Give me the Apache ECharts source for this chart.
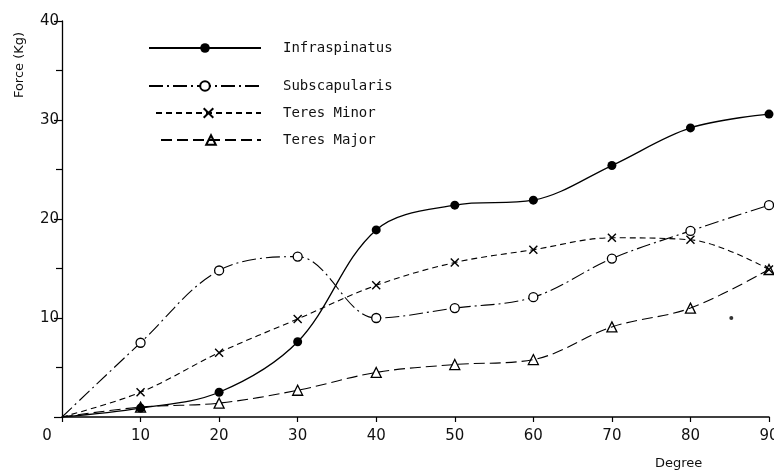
<!DOCTYPE html>
<html>
<head>
<meta charset="utf-8">
<script src="https://cdn.jsdelivr.net/npm/echarts@6/dist/echarts.min.js"></script>
<style>html,body{margin:0;padding:0;background:#fff;}#c{width:774px;height:472px;}</style>
</head>
<body>
<div id="c"></div>
<script>
var degrees = [0, 10, 20, 30, 40, 50, 60, 70, 80, 90];
var infraspinatus = [0, 0.9, 2.5, 7.6, 18.9, 21.4, 21.9, 25.4, 29.2, 30.6];
var subscapularis = [0, 7.5, 14.8, 16.2, 10.0, 11.0, 12.1, 16.0, 18.8, 21.4];
var teresMinor = [0, 2.5, 6.5, 9.9, 13.3, 15.6, 16.9, 18.1, 17.9, 14.9];
var teresMajor = [0, 1.0, 1.4, 2.7, 4.5, 5.3, 5.8, 9.1, 11.0, 14.9];
var strayDot = [[85.2, 10.0]];
var xTicks = [0, 10, 20, 30, 40, 50, 60, 70, 80, 90];
var yTicks = [10, 20, 30, 40];

var FONT = 'DejaVu Sans';
var MONO = 'DejaVu Sans Mono';

function build(vals) {
  return degrees.map(function (d, i) {
    var p = { value: [d, vals[i]] };
    if (i === 0) { p.symbol = 'none'; p.symbolSize = 0; }
    return p;
  });
}

var xPath = 'path://M0,0L10,10M10,0L0,10';

var series = [
  { name: 'Infraspinatus', data: build(infraspinatus), symbol: 'circle', symbolSize: 9, z: 6,
    itemStyle: { color: '#000', borderColor: '#000', borderWidth: 0 },
    lineStyle: { color: '#000', width: 1.3, type: 'solid' } },
  { name: 'Subscapularis', data: build(subscapularis), symbol: 'circle', symbolSize: 9, z: 4,
    itemStyle: { color: '#fff', borderColor: '#000', borderWidth: 1.3 },
    lineStyle: { color: '#000', width: 1.1, type: [14, 4, 2, 4] } },
  { name: 'Teres Minor', data: build(teresMinor), symbol: xPath, symbolSize: 8, z: 4,
    itemStyle: { color: 'none', borderColor: '#000', borderWidth: 1.4 },
    lineStyle: { color: '#000', width: 1.1, type: [6, 4] } },
  { name: 'Teres Major', data: build(teresMajor), symbol: 'triangle', symbolSize: 10, z: 3,
    itemStyle: { color: 'none', borderColor: '#000', borderWidth: 1.3 },
    lineStyle: { color: '#000', width: 1.1, type: [11, 5] } }
].map(function (s) {
  s.type = 'line'; s.smooth = 0.35; s.animation = false; s.showAllSymbol = true;
  return s;
});
series.push({ type: 'scatter', name: 'dot', data: strayDot, symbol: 'circle', symbolSize: 4,
  itemStyle: { color: '#000' }, animation: false });

var legendTops = [35, 73, 100, 127];
var legendLefts = [143, 143, 150, 155];
var legendW = [112, 112, 105, 100];
var legends = series.slice(0, 4).map(function (s, i) {
  return {
    data: [s.name], left: legendLefts[i], top: legendTops[i], orient: 'vertical',
    itemWidth: legendW[i], itemHeight: 12, selectedMode: false,
    textStyle: { fontFamily: MONO, fontSize: 14, color: '#111', lineHeight: 16, padding: [0, 0, 0, 17] }
  };
});

var chart = echarts.init(document.getElementById('c'), null, { renderer: 'canvas' });
chart.setOption({
  backgroundColor: '#fff',
  animation: false,
  legend: legends,
  title: { text: 'Degree', left: 650, top: 452,
    textStyle: { fontFamily: FONT, fontSize: 13, fontWeight: 'normal', color: '#111' } },
  grid: { left: 62, right: 5, top: 21, bottom: 55, containLabel: false, outerBoundsMode: 'none' },
  xAxis: {
    type: 'value', min: 0, max: 90, interval: 10,
    axisLine: { show: true, lineStyle: { color: '#000', width: 1.5 } },
    axisTick: { show: true, length: 5, lineStyle: { color: '#000', width: 1.2 } },
    splitLine: { show: false },
    axisLabel: { margin: 12, fontFamily: FONT, fontSize: 15, color: '#111',
      formatter: function (v) { return xTicks.indexOf(v) === 0 ? '{o|0}' : String(v); },
      rich: { o: { padding: [0, 30, 0, 0], fontFamily: FONT, fontSize: 15, color: '#111' } } }
  },
  yAxis: {
    type: 'value', min: 0, max: 40, interval: 10,
    axisLine: { show: true, lineStyle: { color: '#000', width: 1.3 } },
    axisTick: { show: true, length: 8, lineStyle: { color: '#000', width: 1.2 } },
    minorTick: { show: true, splitNumber: 2, length: 6, lineStyle: { color: '#000', width: 1.2 } },
    splitLine: { show: false },
    axisLabel: { margin: 3, fontFamily: FONT, fontSize: 15, color: '#111',
      formatter: function (v) { return yTicks.indexOf(v) >= 0 ? String(v) : ''; } }
  },
  graphic: [{
    type: 'text', x: 20, y: 65, rotation: Math.PI / 2,
    style: { text: 'Force (Kg)', fontFamily: FONT, fontSize: 13, fill: '#111', align: 'center', verticalAlign: 'middle' }
  }],
  series: series
});
</script>
</body>
</html>
